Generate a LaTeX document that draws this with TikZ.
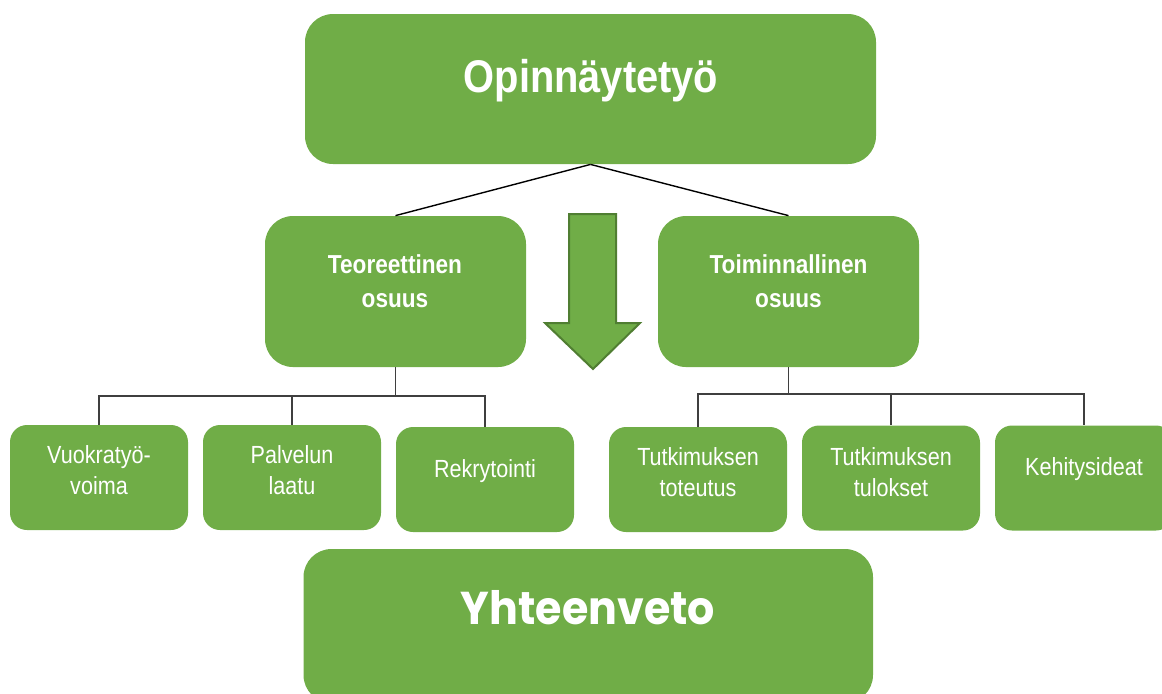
\documentclass[tikz,border=0pt]{standalone}
\usepackage{fontspec}
\setmainfont{Liberation Sans}
\newfontfamily\narrowfont[FakeStretch=0.87]{Liberation Sans}
\newfontfamily\roundfont[FakeStretch=0.93]{Poppins}
\usetikzlibrary{positioning}
\definecolor{leaf}{HTML}{70AD47}
\definecolor{leafdark}{HTML}{507E32}
\definecolor{wire}{HTML}{3F3F3F}

\begin{document}
\begin{tikzpicture}[x=0.5pt,y=-0.5pt]
\useasboundingbox (0,0) rectangle (1162,693);
\clip (0,0) rectangle (1162,693);

% green boxes
\begin{scope}[every node/.style={fill=leaf,draw=none,inner sep=0pt}]
	\node[rounded corners=14pt,minimum width=285.5pt,minimum height=75pt] (top) at (590.5,89) {};
	\node[rounded corners=14pt,minimum width=130.5pt,minimum height=75.5pt] (teo) at (395.5,291.5) {};
	\node[rounded corners=14pt,minimum width=130.5pt,minimum height=75.5pt] (toi) at (788.5,291.5) {};
	\node[rounded corners=8.5pt,minimum width=89pt,minimum height=52.5pt] (v1) at (99,477.5) {};
	\node[rounded corners=8.5pt,minimum width=89pt,minimum height=52.5pt] (v2) at (292,477.5) {};
	\node[rounded corners=8.5pt,minimum width=89pt,minimum height=52.5pt] (v3) at (485,479.5) {};
	\node[rounded corners=8.5pt,minimum width=89pt,minimum height=52.5pt] (t1) at (698,479.5) {};
	\node[rounded corners=8.5pt,minimum width=89pt,minimum height=52.5pt] (t2) at (891,478) {};
	\node[rounded corners=8.5pt,minimum width=89pt,minimum height=52.5pt] (t3) at (1084,478) {};
	\node[rounded corners=14pt,minimum width=284.75pt,minimum height=77pt] (sum) at (588.25,626) {};
\end{scope}

% down arrow
\draw[fill=leaf,draw=leafdark,line width=1pt,line join=miter]
	(569,214) -- (616,214) -- (616,323) -- (640,323) -- (593,369)
	-- (545,323) -- (569,323) -- cycle;

% texts
\begin{scope}[every node/.style={text=white,align=center,inner sep=0pt}]
	\node[font=\narrowfont\bfseries\fontsize{22.9}{27}\selectfont] (toptxt) at (591,81) {Opinnäytetyö};
	\node[font=\narrowfont\bfseries\fontsize{13}{17}\selectfont] (teotxt) at (395,281) {Teoreettinen\\osuus};
	\node[font=\narrowfont\bfseries\fontsize{13}{17}\selectfont] (toitxt) at (788.5,281) {Toiminnallinen\\osuus};
	\node[font=\narrowfont\fontsize{12.4}{15.5}\selectfont] (v1txt) at (99,470.5) {Vuokratyö-\\voima};
	\node[font=\narrowfont\fontsize{12.4}{15.5}\selectfont] (v2txt) at (292,470.5) {Palvelun\\laatu};
	\node[font=\narrowfont\fontsize{12.4}{15.5}\selectfont] (v3txt) at (485,470.6) {Rekrytointi};
	\node[font=\narrowfont\fontsize{12.4}{15.5}\selectfont] (t1txt) at (698,472.5) {Tutkimuksen\\toteutus};
	\node[font=\narrowfont\fontsize{12.4}{15.5}\selectfont] (t2txt) at (891,472.5) {Tutkimuksen\\tulokset};
	\node[font=\narrowfont\fontsize{12.4}{15.5}\selectfont] (t3txt) at (1084,469.5) {Kehitysideat};
	\node[font=\roundfont\bfseries\fontsize{23}{28}\selectfont] (sumtxt) at (588,607.5) {Yhteenveto};
\end{scope}

% connectors
\coordinate (lhub) at (395.5,396);
\coordinate (rhub) at (788.5,394);
\begin{scope}[line width=0.7pt]
	\draw (top.south) -- (teo.north);
	\draw (top.south) -- (toi.north);
\end{scope}
\begin{scope}[draw=wire,line width=0.8pt]
	\draw (teo.south) -- (lhub);
	\draw (toi.south) -- (rhub);
	\foreach \b in {v1,v2,v3} \draw (lhub) -| (\b.north);
	\foreach \b in {t1,t2,t3} \draw (rhub) -| (\b.north);
\end{scope}
\end{tikzpicture}
\end{document}
